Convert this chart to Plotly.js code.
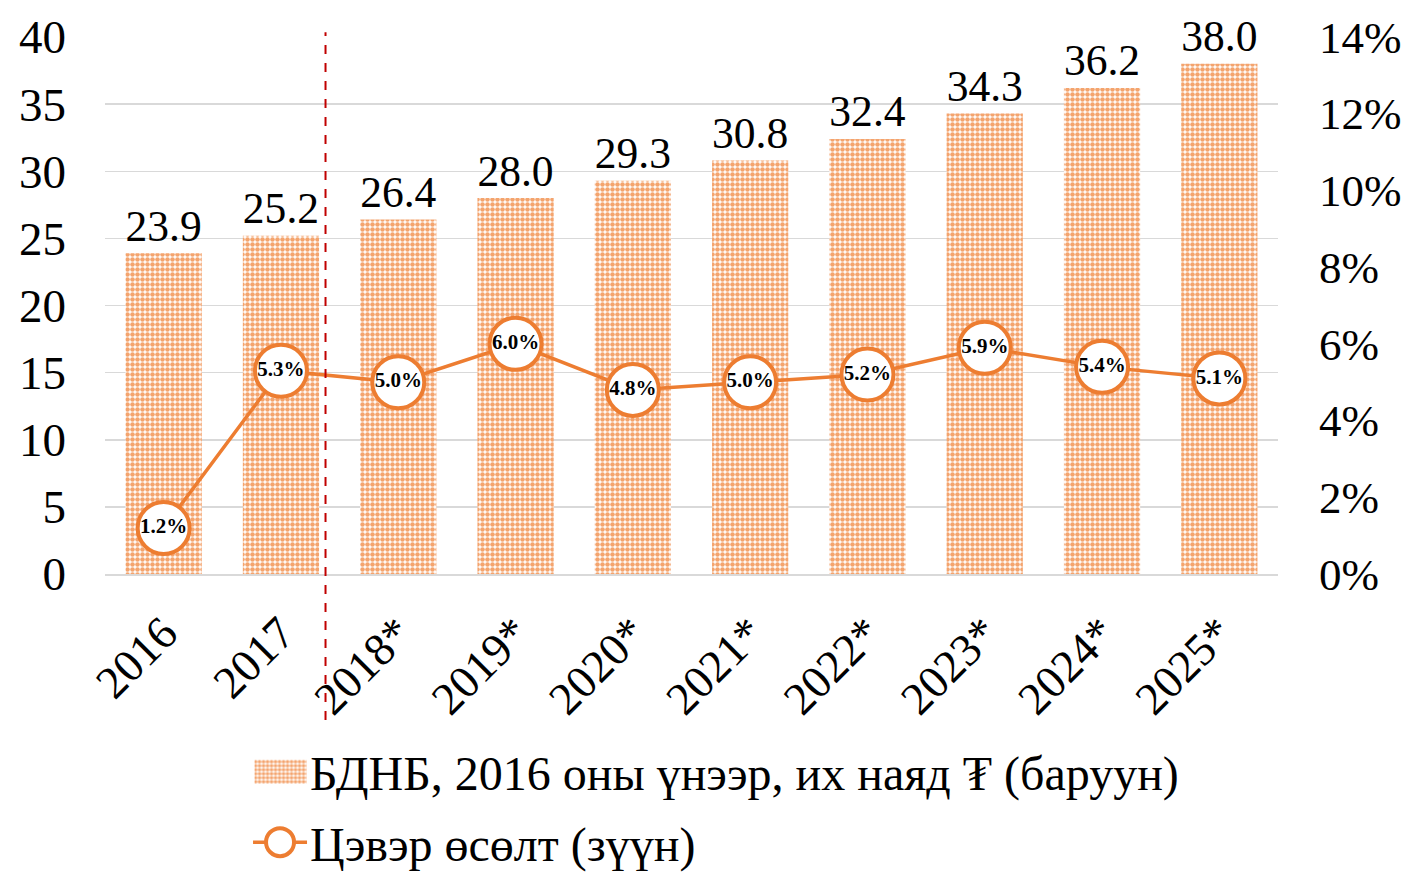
<!DOCTYPE html>
<html><head><meta charset="utf-8">
<script src="https://cdn.plot.ly/plotly-3.0.1.min.js"></script>
<style>html,body{margin:0;padding:0;background:#fff}#chart{width:1407px;height:873px}</style>
</head><body><div id="chart"></div>
<script>
const categories = ["2016","2017","2018*","2019*","2020*","2021*","2022*","2023*","2024*","2025*"];
const gdpValues = [23.9,25.2,26.4,28.0,29.3,30.8,32.4,34.3,36.2,38.0];
const growthValues = [0.012,0.053,0.050,0.060,0.048,0.050,0.052,0.059,0.054,0.051];
const barName = "БДНБ, 2016 оны үнээр, их наяд ₮ (баруун)";
const lineName = "Цэвэр өсөлт (зүүн)";

const F = "Liberation Serif, Times New Roman, serif";
const orange = "#ed7d31";

const bars = {
  type: "bar", x: categories, y: gdpValues, name: barName, legendgroup: "a",
  width: 0.65,
  marker: {color: "#f6b98f", pattern: {shape: ".", fgcolor: "#f4a46e", bgcolor: "#fff", size: 5, solidity: 0.65}, line: {width: 0}},
  text: gdpValues.map(v => v.toFixed(1)), textposition: "outside",
  textfont: {family: F, size: 50, color: "#000"}, cliponaxis: false,
  hoverinfo: "skip"
};
const line = {
  type: "scatter", mode: "lines+markers+text", x: categories, y: growthValues, yaxis: "y2",
  name: lineName, legendgroup: "b",
  line: {color: orange, width: 3.5},
  marker: {symbol: "circle", size: 52, color: "#fff", line: {color: orange, width: 4}},
  text: growthValues.map(v => (v*100).toFixed(1) + "%"), textposition: "middle center",
  textfont: {family: F, size: 21, color: "#000", weight: "bold"}, cliponaxis: false
};

const layout = {
  width: 1407, height: 873,
  margin: {l: 105, r: 129, t: 37, b: 299, autoexpand: false},
  paper_bgcolor: "#fff", plot_bgcolor: "#fff",
  font: {family: F, size: 45, color: "#000"},
  showlegend: true,
  legend: {x: 0.1262, xanchor: "left", y: -0.298, yanchor: "top",
           orientation: "v", traceorder: "grouped", tracegroupgap: 5,
           font: {family: F, size: 48, color: "#000"}, itemwidth: 47},
  xaxis: {type: "category", range: [-0.5, 9.5], tickangle: -45, tickfont: {family: F, size: 46}, showgrid: false,
          showline: true, linecolor: "#d9d9d9", linewidth: 1.5, ticks: "", automargin: false, ticklabelstandoff: 12},
  yaxis: {range: [0, 40], dtick: 5, tickfont: {family: F, size: 47}, showgrid: true,
          gridcolor: "#d9d9d9", gridwidth: 1.5, zeroline: false, showline: false, ticks: "", automargin: false, ticklabelstandoff: 38},
  yaxis2: {range: [0, 0.14], dtick: 0.02, tickformat: ".0%", overlaying: "y", side: "right",
           tickfont: {family: F, size: 45}, showgrid: false, zeroline: false, showline: false, automargin: false, ticklabelstandoff: 40},
  shapes: [{type: "line", xref: "x", yref: "paper", x0: 1.38, x1: 1.38, y0: -0.272, y1: 1.009,
            line: {color: "#c00000", width: 2, dash: "dash"}}]
};
Plotly.newPlot("chart", [bars, line], layout, {displayModeBar: false, staticPlot: true}).then(function (gd) {
  // enlarge legend swatches to match the reference's legend keys
  const items = gd.querySelectorAll(".legend .traces");
  items.forEach(function (it, i) {
    if (i === 0) {
      const p = it.querySelector(".legendpoints path");
      if (p) { p.setAttribute("d", "M25,12H-27V-12H25Z"); }
    } else {
      const l = it.querySelector(".legendlines path");
      if (l) { l.setAttribute("d", "M0,0h54"); }
      const m = it.querySelector(".legendpoints path");
      if (m) { m.setAttribute("d", "M14,0A14,14 0 1,1 0,-14A14,14 0 0,1 14,0Z"); m.setAttribute("transform", "translate(27,0)"); m.style.strokeWidth = "4px"; }
    }
  });
});
</script></body></html>
